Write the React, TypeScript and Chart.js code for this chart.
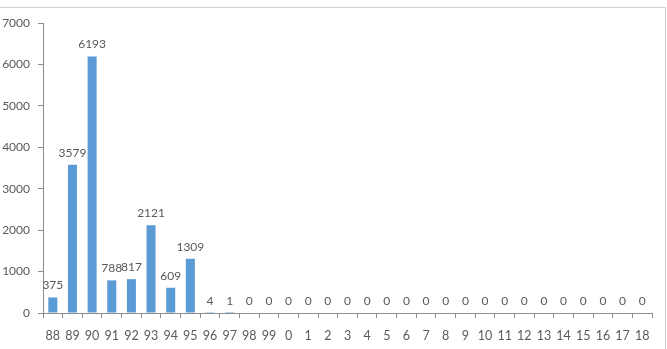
import React, { useEffect, useRef } from "react";
import { Chart, registerables } from "chart.js";

Chart.register(...registerables);

const categories = ["88","89","90","91","92","93","94","95","96","97","98","99","0","1","2","3","4","5","6","7","8","9","10","11","12","13","14","15","16","17","18"];
const values = [375,3579,6193,788,817,2121,609,1309,4,1,0,0,0,0,0,0,0,0,0,0,0,0,0,0,0,0,0,0,0,0,0];
const yTicks = [0,1000,2000,3000,4000,5000,6000,7000];

const FONT = "Lato, 'Open Sans', sans-serif";
const TEXT = "#595959";
const AXIS = "#8c8c8c";

const labelPlugin = {
  id: "labels",
  afterDatasetsDraw(chart: any) {
    const ctx = chart.ctx;
    const meta = chart.getDatasetMeta(0);
    ctx.save();
    ctx.font = `12px ${FONT}`;
    ctx.fillStyle = TEXT;
    ctx.textAlign = "center";
    ctx.textBaseline = "bottom";
    meta.data.forEach((bar: any, i: number) => {
      ctx.fillText(String(values[i]), bar.x, bar.y - 6);
    });
    ctx.restore();
  },
  afterDraw(chart: any) {
    const ctx = chart.ctx;
    ctx.save();
    ctx.strokeStyle = "#d0d0d0";
    ctx.lineWidth = 1;
    ctx.beginPath();
    ctx.moveTo(0, 7.5);
    ctx.lineTo(665.5, 7.5);
    ctx.lineTo(665.5, 349);
    ctx.stroke();
    ctx.restore();
  },
};

export default function App() {
  const ref = useRef<HTMLCanvasElement>(null);
  useEffect(() => {
    const chart = new Chart(ref.current!, {
      type: "bar",
      data: {
        labels: categories,
        datasets: [
          {
            data: values,
            backgroundColor: "#5B9BD5",
            categoryPercentage: 1,
            barPercentage: 0.46,
          },
        ],
      },
      options: {
        animation: false,
        responsive: false,
        devicePixelRatio: 1,
        layout: { padding: { top: 23, right: 15, left: 0, bottom: 0 } },
        plugins: { legend: { display: false }, tooltip: { enabled: false } },
        scales: {
          x: {
            grid: { display: true, drawOnChartArea: false, offset: true, tickLength: 5, color: AXIS },
            border: { color: AXIS },
            ticks: { color: TEXT, font: { family: FONT, size: 12.5 }, padding: 10, maxRotation: 0, autoSkip: false },
            afterFit(scale: any) { scale.height = 36; },
          },
          y: {
            min: 0,
            max: 7000,
            afterBuildTicks(scale: any) { scale.ticks = yTicks.map((v) => ({ value: v })); },
            grid: { display: true, drawOnChartArea: false, tickLength: 5, color: AXIS },
            border: { color: AXIS },
            ticks: { color: TEXT, font: { family: FONT, size: 12 }, padding: 8, callback: (v: any) => String(v) },
            afterFit(scale: any) { scale.width = 43; },
          },
        },
      },
      plugins: [labelPlugin],
    });
    return () => chart.destroy();
  }, []);
  return (
    <div style={{ position: "fixed", left: 0, top: 0, width: 667, height: 349, background: "#fff" }}>
      <canvas ref={ref} width={667} height={349} style={{ display: "block" }} />
    </div>
  );
}
